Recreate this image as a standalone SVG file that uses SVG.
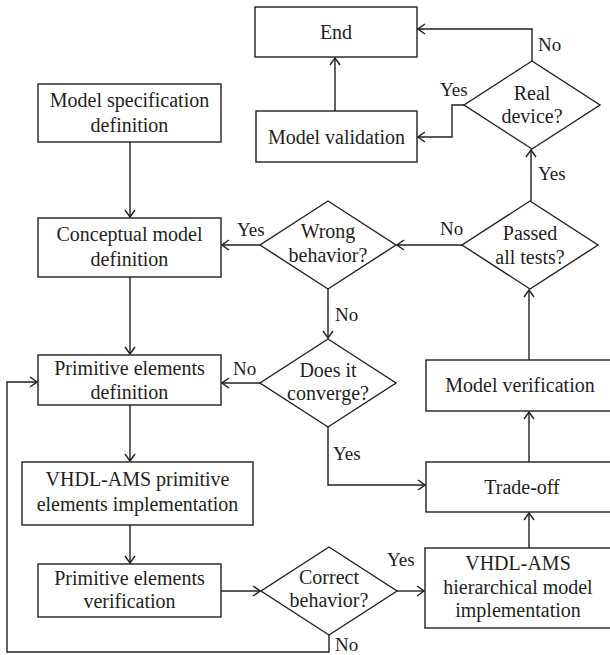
<svg xmlns="http://www.w3.org/2000/svg" width="610" height="655" viewBox="0 0 610 655">
<style>
.n{fill:#fff;stroke:#231f20;stroke-width:1.4}
.t{font-size:20px;fill:#231f20;text-anchor:middle}
.l{font-size:19px;fill:#231f20}
.c{fill:none;stroke:#231f20;stroke-width:1.4}
</style>
<defs>
<marker id="ah" viewBox="-9 -7 10 14" refX="0" refY="0" markerWidth="10" markerHeight="14" markerUnits="userSpaceOnUse" orient="auto">
<path d="M-7,-5 L0,0 L-7,5" fill="none" stroke="#231f20" stroke-width="1.4"/>
</marker>
</defs>
<rect width="610" height="655" fill="#fff"/>
<g font-family="Liberation Serif, DejaVu Serif, serif">
<g id="connectors">
<path class="c" d="M130,142 V217" marker-end="url(#ah)"/>
<path class="c" d="M130,277 V354" marker-end="url(#ah)"/>
<path class="c" d="M130,405 V461" marker-end="url(#ah)"/>
<path class="c" d="M130,525 V563" marker-end="url(#ah)"/>
<path class="c" d="M221,591 H260" marker-end="url(#ah)"/>
<path class="c" d="M397,591 H424" marker-end="url(#ah)"/>
<path class="c" d="M329,635 V652 H7 V382 H37" marker-end="url(#ah)"/>
<path class="c" d="M529,548 V513" marker-end="url(#ah)"/>
<path class="c" d="M529,462 V412" marker-end="url(#ah)"/>
<path class="c" d="M529,360 V290" marker-end="url(#ah)"/>
<path class="c" d="M531,201 V150" marker-end="url(#ah)"/>
<path class="c" d="M532,61 V29 H418" marker-end="url(#ah)"/>
<path class="c" d="M464,105 H452 V137 H418" marker-end="url(#ah)"/>
<path class="c" d="M335,111 V58" marker-end="url(#ah)"/>
<path class="c" d="M462,245 H397" marker-end="url(#ah)"/>
<path class="c" d="M260,245 H222" marker-end="url(#ah)"/>
<path class="c" d="M328,289 V338" marker-end="url(#ah)"/>
<path class="c" d="M260,383 H222" marker-end="url(#ah)"/>
<path class="c" d="M328,427 V485 H425" marker-end="url(#ah)"/>
<text class="l" x="237" y="236">Yes</text>
<text class="l" x="538" y="51">No</text>
<text class="l" x="440" y="96">Yes</text>
<text class="l" x="538" y="180">Yes</text>
<text class="l" x="440" y="235">No</text>
<text class="l" x="335" y="321">No</text>
<text class="l" x="233" y="375">No</text>
<text class="l" x="333" y="460">Yes</text>
<text class="l" x="387" y="566">Yes</text>
<text class="l" x="335" y="651">No</text>
</g>
<g id="end"><rect class="n" x="255" y="7" width="162" height="50"/><text class="t" x="336" y="39">End</text></g>
<g id="spec"><rect class="n" x="38" y="84" width="183" height="58"/><text class="t" x="129.5" y="107">Model specification</text><text class="t" x="129.5" y="132">definition</text></g>
<g id="validation"><rect class="n" x="256" y="111" width="161" height="51"/><text class="t" x="336.5" y="144">Model validation</text></g>
<g id="conceptual"><rect class="n" x="38" y="218" width="183" height="59"/><text class="t" x="129.5" y="241">Conceptual model</text><text class="t" x="129.5" y="266">definition</text></g>
<g id="primdef"><rect class="n" x="38" y="355" width="183" height="50"/><text class="t" x="129.5" y="375">Primitive elements</text><text class="t" x="129.5" y="399">definition</text></g>
<g id="vhdlprim"><rect class="n" x="22" y="462" width="231" height="63"/><text class="t" x="137.5" y="486">VHDL-AMS primitive</text><text class="t" x="137.5" y="511">elements implementation</text></g>
<g id="primver"><rect class="n" x="38" y="564" width="183" height="53"/><text class="t" x="129.5" y="585">Primitive elements</text><text class="t" x="129.5" y="608">verification</text></g>
<g id="modver"><rect class="n" x="426" y="360" width="190" height="51"/><text class="t" x="520" y="392">Model verification</text></g>
<g id="tradeoff"><rect class="n" x="426" y="462" width="190" height="50"/><text class="t" x="522" y="494">Trade-off</text></g>
<g id="hier"><rect class="n" x="425" y="548" width="191" height="80"/><text class="t" x="518" y="570">VHDL-AMS</text><text class="t" x="518" y="594">hierarchical model</text><text class="t" x="518" y="617">implementation</text></g>
<g id="real"><polygon class="n" points="532,61 600,105 532,149 464,105"/><text class="t" x="532" y="100">Real</text><text class="t" x="532" y="123">device?</text></g>
<g id="passed"><polygon class="n" points="530,201 598,245 530,289 462,245"/><text class="t" x="530" y="240">Passed</text><text class="t" x="530" y="264">all tests?</text></g>
<g id="wrong"><polygon class="n" points="328,201 396,245 328,289 260,245"/><text class="t" x="328" y="238">Wrong</text><text class="t" x="328" y="262">behavior?</text></g>
<g id="converge"><polygon class="n" points="328,339 396,383 328,427 260,383"/><text class="t" x="328" y="377">Does it</text><text class="t" x="328" y="400">converge?</text></g>
<g id="correct"><polygon class="n" points="329,547 397,591 329,635 261,591"/><text class="t" x="329" y="584">Correct</text><text class="t" x="329" y="607">behavior?</text></g>
</g>
</svg>
